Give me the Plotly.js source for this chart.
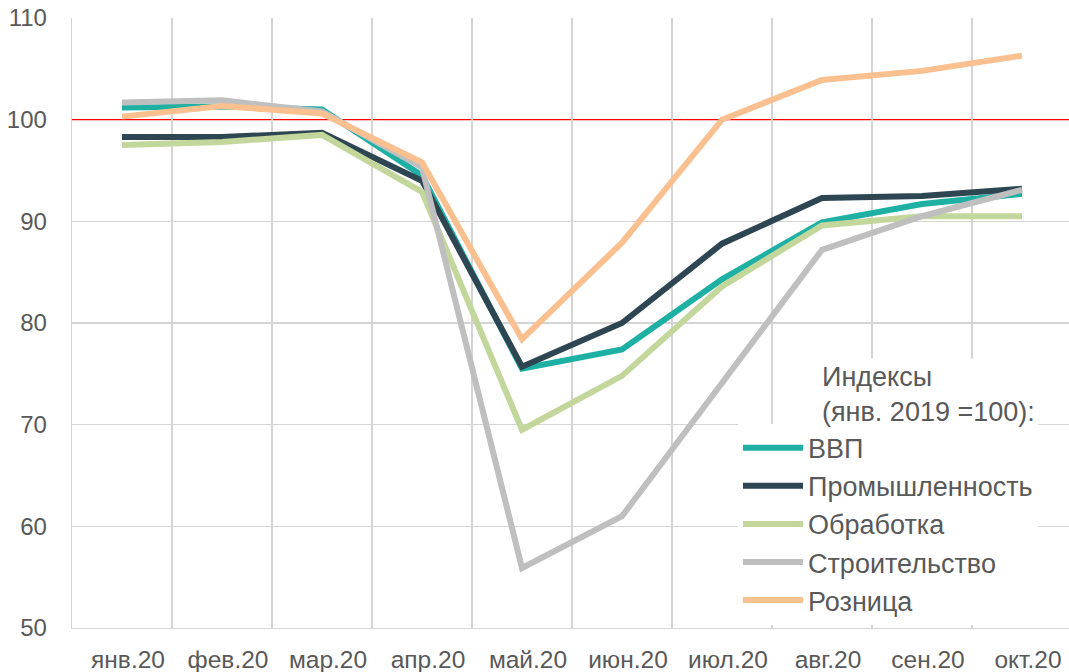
<!DOCTYPE html>
<html>
<head>
<meta charset="utf-8">
<script src="https://cdn.plot.ly/plotly-3.0.1.min.js"></script>
<style>html,body{margin:0;padding:0;background:#fff;}#chart{width:1069px;height:672px;}</style>
</head>
<body>
<div id="chart"></div>
<script>
const months = ["янв.20","фев.20","мар.20","апр.20","май.20","июн.20","июл.20","авг.20","сен.20","окт.20"];
const vvp      = [101.2, 101.3, 101.0, 94.5, 75.5, 77.4, 84.3, 89.9, 91.7, 92.7];
const prom     = [98.3, 98.3, 98.7, 94.0, 75.7, 80.0, 87.8, 92.3, 92.5, 93.2];
const obrab    = [97.5, 97.8, 98.5, 92.9, 69.5, 74.8, 83.6, 89.6, 90.5, 90.5];
const stroi    = [101.7, 101.9, 100.8, 95.3, 55.9, 61.0, 74.1, 87.2, 90.5, 93.1];
const roznica  = [100.3, 101.35, 100.6, 95.8, 78.4, 87.9, 100.0, 103.9, 104.8, 106.3];
const seriesNames = ["ВВП","Промышленность","Обработка","Строительство","Розница"];
const yTicks = [50, 60, 70, 80, 90, 100, 110];
const baseLevel = 100;
const legendTitle = "Индексы<br>(янв. 2019 =100):";

const colors = ["#1fb0a4", "#2e4552", "#c3d69b", "#bfbfbf", "#fac090"];
const allSeries = [vvp, prom, obrab, stroi, roznica];

const traces = allSeries.map((vals, i) => ({
  type: "scatter",
  mode: "lines",
  x: months,
  y: vals,
  name: seriesNames[i],
  legendgroup: "g" + i,
  line: {color: colors[i], width: 6},
  hoverinfo: "x+y+name"
}));

const textColor = "#595959";
const font = "Liberation Sans, Arial, sans-serif";
const gridColor = "#d4d4d4";

const layout = {
  width: 1069,
  height: 672,
  margin: {l: 72, r: 0, t: 18, b: 44, pad: 0},
  paper_bgcolor: "#ffffff",
  plot_bgcolor: "#ffffff",
  showlegend: true,
  font: {family: font, color: textColor},
  xaxis: {
    type: "category",
    range: [-0.5, 9.47],
    tickson: "boundaries",
    showgrid: true,
    gridcolor: gridColor,
    gridwidth: 1.3,
    showline: true,
    linecolor: gridColor,
    linewidth: 1.3,
    ticks: "",
    tickfont: {size: 24.5, color: textColor, family: font},
    ticklabelstandoff: 9,
    ticklabelshift: 6,
    fixedrange: true
  },
  yaxis: {
    range: [50, 110],
    tickvals: yTicks,
    ticktext: yTicks.map(String),
    showgrid: false,
    minor: {
      tickvals: yTicks.filter(v => v !== baseLevel),
      showgrid: true,
      gridcolor: gridColor,
      gridwidth: 1.3,
      ticks: ""
    },
    zeroline: false,
    showline: true,
    linecolor: gridColor,
    linewidth: 1.3,
    ticks: "",
    tickfont: {size: 24, color: textColor, family: font},
    ticklabelstandoff: 19,
    fixedrange: true
  },
  shapes: [{
    type: "line", xref: "paper", yref: "y",
    x0: 0, x1: 1, y0: baseLevel, y1: baseLevel,
    line: {color: "#ff0000", width: 1.1},
    layer: "between"
  }],
  legend: {
    x: 0.668, xanchor: "left",
    y: 0.335, yanchor: "top",
    bgcolor: "#ffffff",
    borderwidth: 0,
    font: {size: 27, color: textColor, family: font},
    itemwidth: 60,
    traceorder: "grouped",
    tracegroupgap: 0
  },
  annotations: [{
    xref: "paper", yref: "paper",
    x: 0.748, y: 0.443, xanchor: "left", yanchor: "top",
    align: "left",
    text: legendTitle,
    showarrow: false,
    bgcolor: "#ffffff",
    borderpad: 3,
    font: {size: 27, color: textColor, family: font}
  }]
};

Plotly.newPlot("chart", traces, layout, {displayModeBar: false, staticPlot: true});
</script>
</body>
</html>
